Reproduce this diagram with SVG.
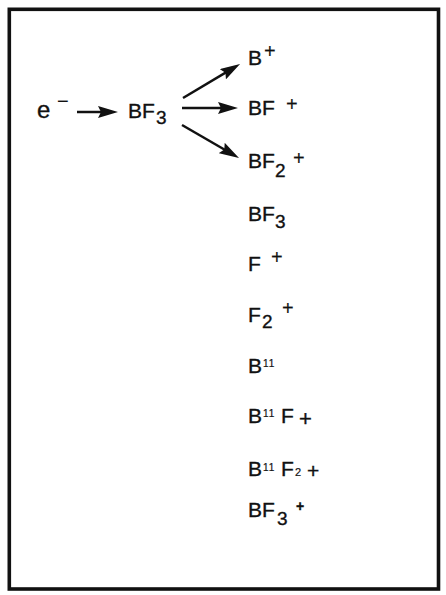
<svg xmlns="http://www.w3.org/2000/svg" width="446" height="595" viewBox="0 0 446 595">
<defs>
<style>
text{font-family:"Liberation Sans",Arial,sans-serif;fill:#111;stroke:#111;stroke-width:0.35;}
.t{font-size:21px;}
.sub{font-size:19px;}
.sup{font-size:20px;stroke-width:0.1;}
.tiny{font-size:10px;stroke-width:0.2;}
.conn{stroke:#111;stroke-width:2.5;fill:none;marker-end:url(#ah);}
</style>
<marker id="ah" viewBox="0 0 20 12" refX="9" refY="6" markerWidth="20" markerHeight="12" markerUnits="userSpaceOnUse" orient="auto">
<path d="M0,0 L20,6 L0,12 L3,6 z" fill="#111"/>
</marker>
</defs>
<rect x="0" y="0" width="446" height="595" fill="#fff"/>
<rect x="9.3" y="9.3" width="429.2" height="579.7" fill="#fff" stroke="#111" stroke-width="3.6"/>

<g id="connectors">
<line class="conn" x1="77" y1="112" x2="107" y2="112"/>
<line class="conn" x1="183" y1="98" x2="230.6" y2="69.6"/>
<line class="conn" x1="182" y1="108" x2="227" y2="108"/>
<line class="conn" x1="182" y1="125" x2="229.5" y2="152.5"/>
</g>

<g id="electron">
<text class="t" x="37" y="118" style="font-size:24px">e</text>
<text class="sup" x="57" y="108">−</text>
</g>

<g id="bf3-source">
<text class="t" x="128" y="118">BF</text>
<text class="sub" x="156" y="124">3</text>
</g>

<g id="b-plus">
<text class="t" x="248" y="65">B</text>
<text class="sup" x="264" y="58">+</text>
</g>

<g id="bf-plus">
<text class="t" x="248" y="115">BF</text>
<text class="sup" x="286" y="111">+</text>
</g>

<g id="bf2-plus">
<text class="t" x="248" y="168">BF</text>
<text class="sub" x="275" y="177">2</text>
<text class="sup" x="293" y="165">+</text>
</g>

<g id="bf3">
<text class="t" x="248" y="221">BF</text>
<text class="sub" x="275" y="228">3</text>
</g>

<g id="f-plus">
<text class="t" x="248" y="271">F</text>
<text class="sup" x="271" y="264">+</text>
</g>

<g id="f2-plus">
<text class="t" x="248" y="322">F</text>
<text class="sub" x="262" y="328">2</text>
<text class="sup" x="282" y="315">+</text>
</g>

<g id="b11">
<text class="t" x="248" y="373">B</text>
<text class="tiny" x="263" y="367" letter-spacing="1">11</text>
</g>

<g id="b11f-plus">
<text class="t" x="248" y="423">B</text>
<text class="tiny" x="263" y="417" letter-spacing="1">11</text>
<text class="t" x="281" y="423">F</text>
<text class="t" x="299" y="426" style="font-size:22px">+</text>
</g>

<g id="b11f2-plus">
<text class="t" x="248" y="476">B</text>
<text class="tiny" x="263" y="471" letter-spacing="1">11</text>
<text class="t" x="281" y="476">F</text>
<text class="tiny" x="295" y="476" style="font-size:11px">2</text>
<text class="t" x="307" y="478">+</text>
</g>

<g id="bf3-plus">
<text class="t" x="248" y="517">BF</text>
<text class="sub" x="277" y="525">3</text>
<text x="296" y="511" style="font-size:14px;font-weight:bold">+</text>
</g>
</svg>
